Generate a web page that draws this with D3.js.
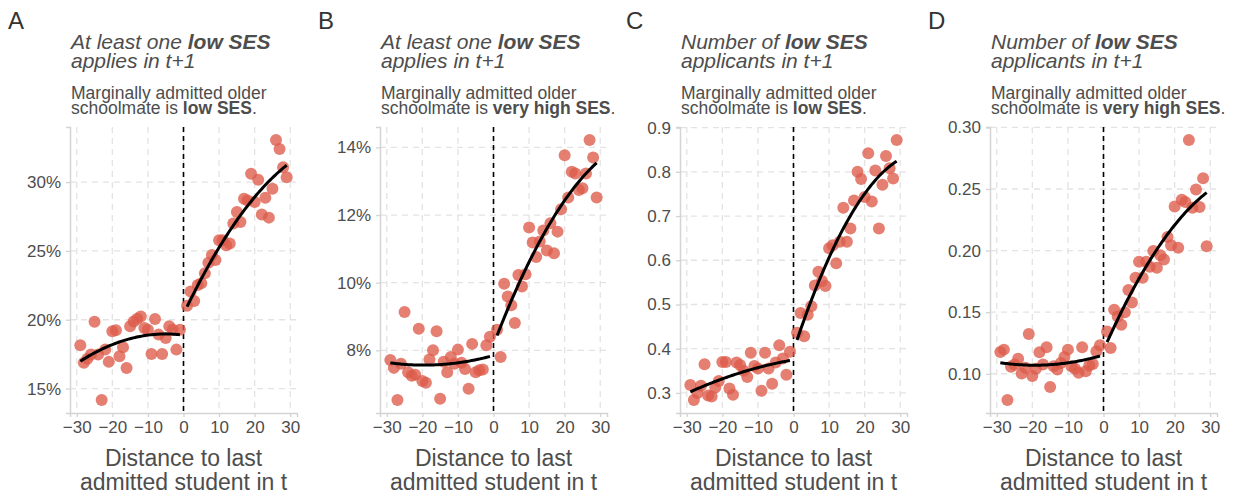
<!DOCTYPE html>
<html>
<head>
<meta charset="utf-8">
<script src="https://cdn.jsdelivr.net/npm/d3@7"></script>
<style>
  body { margin: 0; background: #fff; }
  svg { font-family: "Liberation Sans", Arial, sans-serif; }
</style>
</head>
<body>
<div id="chart"></div>
<script>
// distance to the last admitted student (bins)
const distLeft = [-29, -28, -27, -26, -25, -24, -23, -22, -21, -20, -19, -18, -17, -16, -15,
  -14, -13, -12, -11, -10, -9, -8, -7, -6, -5, -4, -3, -2, -1];
const distRight = [1, 2, 3, 4, 5, 6, 7, 8, 9, 10, 11, 12, 13, 14, 15, 16, 17, 18, 19, 20,
  21, 22, 23, 24, 25, 26, 27, 28, 29];

// A: at least one low SES applies, older schoolmate low SES
const aLeft = [0.1814, 0.1687, 0.1716, 0.1747, 0.1986, 0.1747, 0.1417, 0.1783, 0.1694, 0.1916,
  0.1923, 0.1735, 0.1800, 0.1650, 0.1952, 0.1988, 0.2007, 0.2024, 0.1940, 0.1928,
  0.1752, 0.2005, 0.1892, 0.1752, 0.1867, 0.1952, 0.1928, 0.1783, 0.1928];
const aRight = [0.2101, 0.2205, 0.2137, 0.2253, 0.2265, 0.2337, 0.2414, 0.2470, 0.2434, 0.2578,
  0.2578, 0.2542, 0.2554, 0.2699, 0.2783, 0.2711, 0.2880, 0.2867, 0.3060, 0.2855,
  0.3017, 0.2764, 0.2887, 0.2742, 0.2952, 0.3306, 0.3241, 0.3108, 0.3036];

// B: at least one low SES applies, older schoolmate very high SES
const bLeft = [0.0771, 0.0748, 0.0653, 0.0760, 0.0913, 0.0735, 0.0725, 0.0728, 0.0864, 0.0709,
  0.0704, 0.0773, 0.0800, 0.0856, 0.0657, 0.0766, 0.0735, 0.0780, 0.0760, 0.0802,
  0.0763, 0.0745, 0.0686, 0.0819, 0.0735, 0.0741, 0.0743, 0.0815, 0.0840];
const bRight = [0.0861, 0.0780, 0.0997, 0.0959, 0.0933, 0.0881, 0.1023, 0.0989, 0.1025, 0.1163,
  0.1119, 0.1076, 0.1122, 0.1154, 0.1095, 0.1176, 0.1087, 0.1151, 0.1217, 0.1377,
  0.1252, 0.1328, 0.1323, 0.1274, 0.1279, 0.1323, 0.1422, 0.1370, 0.1252];

// C: number of low SES applicants, older schoolmate low SES
const cLeft = [0.318, 0.284, 0.300, 0.316, 0.365, 0.294, 0.292, 0.312, 0.327, 0.370,
  0.370, 0.310, 0.296, 0.369, 0.363, 0.350, 0.336, 0.391, 0.361, 0.355,
  0.305, 0.391, 0.355, 0.321, 0.369, 0.408, 0.378, 0.341, 0.393];
const cRight = [0.436, 0.481, 0.428, 0.477, 0.496, 0.543, 0.574, 0.553, 0.542, 0.627,
  0.634, 0.593, 0.642, 0.719, 0.642, 0.672, 0.735, 0.800, 0.784, 0.743,
  0.842, 0.733, 0.803, 0.672, 0.771, 0.836, 0.808, 0.785, 0.872];

// D: number of low SES applicants, older schoolmate very high SES
const dLeft = [0.1177, 0.1196, 0.0787, 0.1056, 0.1075, 0.1121, 0.1002, 0.1048, 0.1323, 0.0981,
  0.1040, 0.1174, 0.1075, 0.1215, 0.0892, 0.1061, 0.1034, 0.1088, 0.1137, 0.1196,
  0.1061, 0.1040, 0.1008, 0.1215, 0.1021, 0.1067, 0.1080, 0.1183, 0.1231];
const dRight = [0.1344, 0.1210, 0.1519, 0.1465, 0.1398, 0.1500, 0.1681, 0.1578, 0.1780, 0.1910,
  0.1780, 0.1910, 0.1869, 0.1996, 0.1861, 0.1963, 0.1928, 0.2111, 0.2044, 0.2359,
  0.2023, 0.2413, 0.2394, 0.2898, 0.2348, 0.2497, 0.2354, 0.2588, 0.2036];

// tick labels
const xTicks = [-30, -20, -10, 0, 10, 20, 30];
const yTicksA = [0.15, 0.20, 0.25, 0.30];
const yTicksB = [0.08, 0.10, 0.12, 0.14];
const yTicksC = [0.3, 0.4, 0.5, 0.6, 0.7, 0.8, 0.9];
const yTicksD = [0.10, 0.15, 0.20, 0.25, 0.30];

const titleA = [[["At least one ", false], ["low SES", true]], [["applies in t+1", false]]];
const titleC = [[["Number of ", false], ["low SES", true]], [["applicants in t+1", false]]];
const subLow = [[["Marginally admitted older", false]], [["schoolmate is ", false], ["low SES", true], [".", false]]];
const subHigh = [[["Marginally admitted older", false]], [["schoolmate is ", false], ["very high SES", true], [".", false]]];

const panels = [
  { letter: "A", letterX: 8,   left: 70,  title: titleA, sub: subLow,  left_y: aLeft, right_y: aRight, ticks: yTicksA, fmt: d3.format(".0%") },
  { letter: "B", letterX: 318, left: 380, title: titleA, sub: subHigh, left_y: bLeft, right_y: bRight, ticks: yTicksB, fmt: d3.format(".0%") },
  { letter: "C", letterX: 626, left: 680, title: titleC, sub: subLow,  left_y: cLeft, right_y: cRight, ticks: yTicksC, fmt: d3.format(".1f") },
  { letter: "D", letterX: 928, left: 990, title: titleC, sub: subHigh, left_y: dLeft, right_y: dRight, ticks: yTicksD, fmt: d3.format(".2f") },
];

const W = 1237, H = 494;
const plotW = 227, plotTop = 127, plotBottom = 413;
const pointColor = "#dc5b4a";
const textColor = "#4d4d4d";
const gridColor = "#e3e3e3";
const axisColor = "#d4d4d4";

// least squares quadratic, like geom_smooth(method = lm, y ~ poly(x, 2))
function quadFit(xs, ys) {
  const n = xs.length;
  let s1 = 0, s2 = 0, s3 = 0, s4 = 0, t0 = 0, t1 = 0, t2 = 0;
  xs.forEach((x, i) => {
    const y = ys[i];
    s1 += x; s2 += x * x; s3 += x * x * x; s4 += x * x * x * x;
    t0 += y; t1 += x * y; t2 += x * x * y;
  });
  const m = [[n, s1, s2], [s1, s2, s3], [s2, s3, s4]];
  const det = a => a[0][0] * (a[1][1] * a[2][2] - a[1][2] * a[2][1])
    - a[0][1] * (a[1][0] * a[2][2] - a[1][2] * a[2][0])
    + a[0][2] * (a[1][0] * a[2][1] - a[1][1] * a[2][0]);
  const D = det(m);
  const rhs = [t0, t1, t2];
  const coef = [0, 1, 2].map(k => det(m.map((row, r) => row.map((v, c) => c === k ? rhs[r] : v))) / D);
  return x => coef[0] + coef[1] * x + coef[2] * x * x;
}

const svg = d3.select("#chart").append("svg")
  .attr("width", W)
  .attr("height", H);

function richText(g, lines, x, y0, lineH, size, italic) {
  lines.forEach((parts, i) => {
    const t = g.append("text")
      .attr("x", x)
      .attr("y", y0 + i * lineH)
      .attr("font-size", size)
      .attr("fill", textColor)
      .attr("font-style", italic ? "italic" : "normal");
    parts.forEach(([s, bold]) => {
      t.append("tspan").attr("font-weight", bold ? "bold" : "normal").text(s);
    });
  });
}

panels.forEach(p => {
  const g = svg.append("g");
  const allX = distLeft.concat(distRight);
  const allY = p.left_y.concat(p.right_y);

  // ggplot-style 5% expansion
  const xe = d3.extent(allX), ye = d3.extent(allY);
  const xPad = (xe[1] - xe[0]) * 0.05, yPad = (ye[1] - ye[0]) * 0.05;

  const x = d3.scaleLinear()
    .domain([xe[0] - xPad, xe[1] + xPad])
    .range([p.left, p.left + plotW]);
  const y = d3.scaleLinear()
    .domain([ye[0] - yPad, ye[1] + yPad])
    .range([plotBottom, plotTop]);

  // letter, title, subtitle
  g.append("text")
    .attr("x", p.letterX)
    .attr("y", 29)
    .attr("font-size", 24)
    .attr("fill", "#333")
    .text(p.letter);
  richText(g, p.title, p.left + 1, 49, 19, 21, true);
  richText(g, p.sub, p.left + 1, 98.5, 15, 17.5, false);

  // grid
  g.append("g").selectAll("line")
    .data(xTicks)
    .join("line")
      .attr("x1", d => x(d)).attr("x2", d => x(d))
      .attr("y1", plotTop).attr("y2", plotBottom)
      .attr("stroke", gridColor)
      .attr("stroke-width", 1.3)
      .attr("stroke-dasharray", "6,5");
  g.append("g").selectAll("line")
    .data(p.ticks)
    .join("line")
      .attr("x1", p.left).attr("x2", p.left + plotW)
      .attr("y1", d => y(d)).attr("y2", d => y(d))
      .attr("stroke", gridColor)
      .attr("stroke-width", 1.3)
      .attr("stroke-dasharray", "6,5");

  // axes
  const xAxis = g.append("g")
    .attr("transform", `translate(0,${plotBottom})`)
    .call(d3.axisBottom(x).tickValues(xTicks).tickSize(4).tickPadding(4));
  const yAxis = g.append("g")
    .attr("transform", `translate(${p.left},0)`)
    .call(d3.axisLeft(y).tickValues(p.ticks).tickFormat(p.fmt).tickSize(4).tickPadding(5));
  [xAxis, yAxis].forEach(a => {
    a.select(".domain").attr("stroke", axisColor).attr("stroke-width", 1.5);
    a.selectAll(".tick line").attr("stroke", axisColor).attr("stroke-width", 1.3);
    a.selectAll(".tick text")
      .attr("fill", textColor)
      .attr("font-size", 17)
      .attr("font-family", "Liberation Sans, Arial, sans-serif");
  });

  // x axis title
  g.append("text")
    .attr("x", p.left + plotW / 2)
    .attr("y", 466)
    .attr("text-anchor", "middle")
    .attr("font-size", 23)
    .attr("fill", textColor)
    .text("Distance to last");
  g.append("text")
    .attr("x", p.left + plotW / 2)
    .attr("y", 490)
    .attr("text-anchor", "middle")
    .attr("font-size", 23)
    .attr("fill", textColor)
    .text("admitted student in t");

  // cutoff
  g.append("line")
    .attr("x1", x(0)).attr("x2", x(0))
    .attr("y1", plotTop).attr("y2", plotBottom)
    .attr("stroke", "black")
    .attr("stroke-width", 1.6)
    .attr("stroke-dasharray", "5,4");

  // points
  const pts = distLeft.map((d, i) => ({ d, v: p.left_y[i] }))
    .concat(distRight.map((d, i) => ({ d, v: p.right_y[i] })));
  g.append("g").selectAll("circle")
    .data(pts)
    .join("circle")
      .attr("cx", d => x(d.d))
      .attr("cy", d => y(d.v))
      .attr("r", 6)
      .attr("fill", pointColor)
      .attr("opacity", 0.78);

  // fitted curves on each side
  const line = d3.line().x(d => x(d[0])).y(d => y(d[1]));
  [[distLeft, p.left_y], [distRight, p.right_y]].forEach(([xs, ys]) => {
    const f = quadFit(xs, ys);
    const lo = d3.min(xs), hi = d3.max(xs);
    const curve = d3.range(0, 61).map(k => {
      const xv = lo + (hi - lo) * k / 60;
      return [xv, f(xv)];
    });
    g.append("path")
      .datum(curve)
      .attr("d", line)
      .attr("fill", "none")
      .attr("stroke", "black")
      .attr("stroke-width", 3);
  });
});
</script>
</body>
</html>
